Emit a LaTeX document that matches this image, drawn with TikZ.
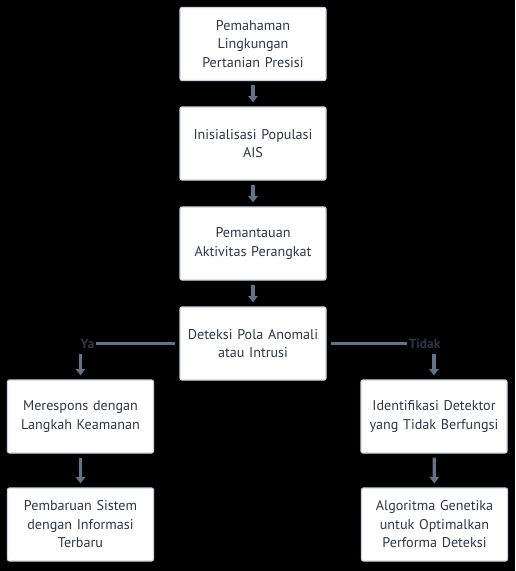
\documentclass[tikz,border=0pt]{standalone}
\usepackage{fontspec}
\setmainfont{PT Sans}
\usetikzlibrary{arrows.meta}

\definecolor{boxline}{RGB}{203,213,225}
\definecolor{txtc}{RGB}{45,55,72}
\definecolor{flowc}{RGB}{100,114,135}
\definecolor{lblc}{RGB}{45,55,72}

\tikzset{every picture/.style={line width=0.75pt}}
\tikzset{
  stepbox/.style={draw=boxline, fill=white, rounded corners=1.5pt, line width=0.9pt,
    minimum width=109.5pt, minimum height=54.75pt, text width=106pt, align=center,
    inner sep=0pt, text=txtc, font=\fontsize{10.6}{13.9}\selectfont},
  flow/.style={draw=flowc, line width=2.4pt, -{Triangle[width=7pt,length=4.8pt]},
    shorten <=3pt, shorten >=3pt},
  branch/.style={draw=flowc, line width=2.4pt, shorten <=3pt},
  choice/.style={text=lblc, font=\bfseries\fontsize{10}{12}\selectfont, inner sep=1pt}
}

\begin{document}
\begin{tikzpicture}[x=0.75pt,y=0.75pt,yscale=-1,xscale=1]
\useasboundingbox[fill=black] (0,0) rectangle (515,571);

% Text Node
\node[stepbox] (paham) at (253,44) {Pemahaman\\Lingkungan\\Pertanian Presisi};
% Text Node
\node[stepbox] (inisial) at (253,143.5) {Inisialisasi Populasi\\AIS};
% Text Node
\node[stepbox] (pantau) at (253,243.5) {Pemantauan\\Aktivitas Perangkat};
% Text Node
\node[stepbox] (deteksi) at (253,343.5) {Deteksi Pola Anomali\\atau Intrusi};
% Text Node
\node[stepbox] (respons) at (80.5,416.5) {Merespons dengan\\Langkah Keamanan};
% Text Node
\node[stepbox] (identifikasi) at (434,416.5) {Identifikasi Detektor\\yang Tidak Berfungsi};
% Text Node
\node[stepbox] (pembaruan) at (80.5,524.5) {Pembaruan Sistem\\dengan Informasi\\Terbaru};
% Text Node
\node[stepbox] (algoritma) at (434.5,524.5) {Algoritma Genetika\\untuk Optimalkan\\Performa Deteksi};

% Text Node
\node[choice, anchor=east] (ya) at (96,343.5) {Ya};
% Text Node
\node[choice, anchor=west] (tidak) at (407,343.5) {Tidak};

%Straight Lines
\draw[flow] (paham) -- (inisial);
\draw[flow] (inisial) -- (pantau);
\draw[flow] (pantau) -- (deteksi);
\draw[branch] (deteksi.west) -- (ya.east);
\draw[branch] (deteksi.east) -- (tidak.west);
\draw[flow] (ya.south -| respons.north) -- (respons.north);
\draw[flow] (tidak.south -| identifikasi.north) -- (identifikasi.north);
\draw[flow] (respons) -- (pembaruan);
\draw[flow] (identifikasi) -- (algoritma);

\end{tikzpicture}
\end{document}
